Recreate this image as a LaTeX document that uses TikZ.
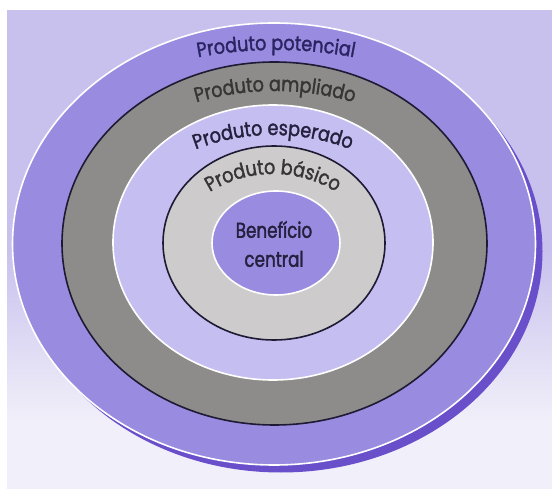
\documentclass[tikz,border=0pt]{standalone}
\usepackage{fontspec}
\newfontfamily\lblfont[FakeStretch=0.86,FakeBold=1.6]{Poppins}
\newfontfamily\ctrfont[FakeStretch=0.78,FakeBold=1.6]{Poppins}
\usetikzlibrary{decorations.text}
\definecolor{bgtop}{HTML}{C8C1EE}
\definecolor{bgbot}{HTML}{F1EFF9}
\definecolor{ringpurple}{HTML}{998CE0}
\definecolor{shadowpurple}{HTML}{6A4FCB}
\definecolor{darkgray}{HTML}{8E8C8A}
\definecolor{darkline}{HTML}{1E1A33}
\definecolor{lavring}{HTML}{C5BEF0}
\definecolor{lightgray}{HTML}{CDCBCB}
\definecolor{txtnavy}{HTML}{2A2462}
\definecolor{txtgray}{HTML}{363434}
\definecolor{txtdark}{HTML}{26203F}
\begin{document}
\begin{tikzpicture}[x=1pt,y=-1pt,
  whiteedge/.style={draw=white,line width=1.6pt},
  blackedge/.style={draw=darkline,line width=1.6pt},
  arclabel/.style 2 args={decorate,decoration={text along path,
    text align=center,
    text={|\fontsize{20.5}{22}\selectfont\lblfont\color{#1}|#2}}},
  centerlabel/.style={font=\fontsize{21.5}{29}\selectfont\ctrfont, text=txtdark, align=center}]
\useasboundingbox (0,0) rectangle (552,489);
% background
\fill[white] (0,0) rectangle (552,489);
\fill[bgtop] (7,10) rectangle (552,251);
\shade[top color=bgtop, bottom color=bgbot] (7,250) rectangle (552,421);
\fill[bgbot] (7,420) rectangle (552,489);
% shadow
\fill[shadowpurple] (281,251.5) ellipse [x radius=261.5, y radius=221];
% rings
\path[fill=ringpurple, whiteedge] (274,244) ellipse [x radius=261.5, y radius=221];
\path[fill=darkgray, blackedge] (274.5,243.5) ellipse [x radius=212.5, y radius=181.5];
\path[fill=lavring, whiteedge] (273,242.5) ellipse [x radius=160, y radius=137.5];
\path[fill=lightgray, blackedge] (274,243) ellipse [x radius=111, y radius=97];
\path[fill=ringpurple, whiteedge] (276,243) ellipse [x radius=64, y radius=52];
% arc labels
\coordinate (cpot) at (276,470);
\coordinate (camp) at (275,369);
\coordinate (cesp) at (273,351);
\coordinate (cbas) at (273,294);
\path[arclabel={txtnavy}{Produto potencial}] (cpot) ++(-105:420) arc[start angle=-105, end angle=-75, radius=420];
\path[arclabel={txtgray}{Produto ampliado}] (camp) ++(-112:278) arc[start angle=-112, end angle=-68, radius=278];
\path[arclabel={txtdark}{Produto esperado}] (cesp) ++(-118:216) arc[start angle=-118, end angle=-62, radius=216];
\path[arclabel={txtgray}{Produto básico}] (cbas) ++(-130:120) arc[start angle=-130, end angle=-50, radius=120];
% center label
\node[centerlabel] (benef) at (274,244) {Benefício\\central};
\end{tikzpicture}
\end{document}
